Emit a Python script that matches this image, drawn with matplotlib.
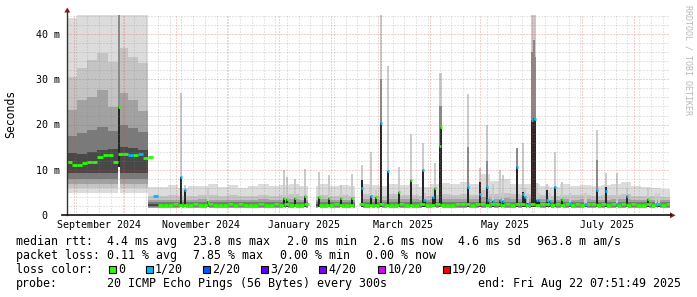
import numpy as np
import pandas as pd
import matplotlib
matplotlib.use("Agg")
import matplotlib.pyplot as plt
import matplotlib.dates as mdates
from matplotlib.patches import Rectangle, Polygon
from matplotlib.lines import Line2D
from matplotlib.transforms import blended_transform_factory

nan = float("nan")

# ---------------- data ----------------
series_start = "2024-08-28"
series_end = "2025-08-22 07:51:49"
median_step_days = 3
smoke_step_days = 6

# median rtt (ms) per 3-day step
median_rtt_ms = [
    11.7, 11.0, 11.2, 11.5, 11.8, 11.8, 12.8, 13.2, 13.4, 11.8,
    13.5, 13.5, 13.4, 13.3, 13.5, 12.7, 12.9, 4.3, 2.3, 2.2,
    2.3, 2.4, 2.2, 2.3, 2.3, 2.5, 2.3, 2.2, 2.4, 2.3,
    2.2, 2.3, 2.5, 2.3, 2.4, 2.2, 2.3, 2.3, 2.6, 2.3,
    2.2, 2.4, 2.3, 2.5, 2.3, 2.2, 2.3, 2.4, nan, nan,
    2.3, 2.2, 2.3, 2.4, 2.3, 2.2, 2.3, nan, 2.4, 2.2,
    2.3, 2.3, 2.5, 2.3, 2.2, 2.3, 2.4, 2.3, 2.2, 2.3,
    2.5, 2.3, 2.3, 2.4, 2.2, 2.3, 2.3, 2.5, 2.6, 2.4,
    2.3, 2.5, 2.4, 2.3, 2.6, 2.4, 2.3, 2.5, 2.3, 2.4,
    2.5, 2.3, 2.4, 2.2, 2.6, 2.4, 2.3, 2.5, 2.3, 2.4,
    2.2, 2.5, 2.3, 2.4, 2.6, 2.3, 2.4, 2.3, 2.5, 2.2,
    2.4, 2.3, 2.5, 2.3, 2.2, 2.4, 2.3, 2.5, 2.3, 2.4,
]
# lost pings (of 20) per 3-day step
median_loss = [
    0, 0, 0, 0, 0, 0, 0, 0, 0, 0, 0, 0, 1, 0, 1, 0, 0, 1, 0, 0,
    0, 0, 0, 0, 0, 0, 0, 0, 0, 0, 0, 0, 0, 0, 0, 0, 0, 0, 0, 0,
    0, 0, 0, 0, 0, 0, 0, 0, 0, 0, 0, 0, 0, 0, 0, 0, 0, 0, 0, 0,
    0, 0, 0, 0, 0, 0, 0, 0, 0, 0, 0, 0, 0, 0, 0, 0, 0, 0, 0, 0,
    0, 0, 0, 0, 0, 0, 0, 0, 0, 0, 0, 0, 0, 0, 0, 0, 0, 0, 0, 0,
    0, 0, 0, 0, 0, 0, 0, 0, 0, 0, 0, 0, 0, 0, 0, 0, 0, 0, 0, 0,
]

# smoke bands (ms) per 6-day step: outer (1) .. inner (5)
smoke1_lo = [5.0] * 8 + [1.5] * 52
smoke1_hi = [43.5, 44.5, 44.5, 44.5, 44.5, 44.5, 44.5, 44.5] + [
    6.2, 6.3, 6.6, 6.0, 6.4, 6.5, 6.8, 6.2, 6.7, 6.0,
    6.5, 7.0, 6.4, 6.6, 6.9, 6.5, 6.5, 6.8, 6.4, 6.7,
    6.5, 7.0, 6.6, 6.5, 7.0, 6.6, 6.9, 6.3, 6.8, 7.2,
    6.9, 7.3, 6.8, 9.0, 7.5, 8.0, 7.0, 6.8, 7.0, 6.5,
    6.3, 6.8, 6.5, 6.7, 6.4, 6.6, 6.9, 7.3, 6.4, 6.2,
    6.0, 5.8]
smoke2_lo = [6.0] * 8 + [1.6] * 52
smoke2_hi = [30.5, 32.4, 34.3, 35.8, 33.8, 37.0, 35.0, 33.5] + [
    4.2, 4.3, 4.4, 4.2, 4.3, 4.5, 4.4, 4.3, 4.4, 4.2,
    4.3, 4.5, 4.3, 4.4, 4.6, 4.3, 4.3, 4.5, 4.3, 4.4,
    4.3, 4.6, 4.4, 4.3, 4.6, 4.4, 4.5, 4.3, 4.5, 4.7,
    4.5, 4.8, 4.5, 5.5, 4.8, 5.0, 4.6, 4.5, 4.6, 4.4,
    4.3, 4.5, 4.4, 4.5, 4.3, 4.4, 4.5, 4.7, 4.3, 4.2,
    4.2, 4.1]
smoke3_lo = [7.0] * 8 + [1.7] * 52
smoke3_hi = [23.2, 25.4, 26.0, 27.6, 23.8, 27.0, 25.4, 23.0] + [
    3.3, 3.4, 3.4, 3.3, 3.4, 3.5, 3.4, 3.3, 3.4, 3.3,
    3.4, 3.5, 3.4, 3.4, 3.5, 3.4, 3.4, 3.5, 3.4, 3.4,
    3.4, 3.6, 3.5, 3.4, 3.6, 3.5, 3.5, 3.4, 3.5, 3.6,
    3.5, 3.7, 3.5, 4.0, 3.7, 3.8, 3.5, 3.5, 3.6, 3.5,
    3.4, 3.5, 3.4, 3.5, 3.4, 3.4, 3.5, 3.6, 3.4, 3.3,
    3.3, 3.3]
smoke4_lo = [8.0] * 8 + [1.8] * 52
smoke4_hi = [17.5, 18.2, 18.8, 19.5, 18.5, 20.0, 19.2, 18.3] + [2.9] * 52
smoke5_lo = [9.4] * 8 + [2.0] * 52
smoke5_hi = [13.8, 13.6, 14.0, 14.5, 14.6, 15.0, 14.8, 14.3] + [2.6] * 52

# short events
spike_dates = [
    "2024-09-28", "2024-11-04", "2024-11-06", "2024-11-20", "2025-01-04",
    "2025-01-06", "2025-01-11", "2025-01-17", "2025-01-25", "2025-01-31",
    "2025-02-07", "2025-02-14", "2025-02-20", "2025-02-25", "2025-02-28",
    "2025-03-03", "2025-03-07", "2025-03-14", "2025-03-21", "2025-03-28",
    "2025-03-29", "2025-04-03", "2025-04-04", "2025-04-07", "2025-04-08",
    "2025-04-24", "2025-05-01", "2025-05-05", "2025-05-06", "2025-05-09",
    "2025-05-13", "2025-05-15", "2025-05-23", "2025-05-27", "2025-05-28",
    "2025-05-30", "2025-06-01", "2025-06-02", "2025-06-03", "2025-06-04",
    "2025-06-05", "2025-06-10", "2025-06-12", "2025-06-15", "2025-06-19",
    "2025-06-24", "2025-07-03", "2025-07-10", "2025-07-15", "2025-07-22",
    "2025-07-28", "2025-08-09", "2025-08-14", "2025-08-16"]
spike_median = [
    23.8, 8.4, 5.6, 3.0, 3.8, 3.6, 3.8, 4.3, 4.1, 3.8,
    3.8, 3.8, 6.1, 4.3, 4.1, 20.3, 9.7, 5.2, 7.8, 10.0,
    3.4, 4.1, 6.1, 15.2, 19.5, 6.3, 4.7, 6.2, 3.4, 3.2,
    3.4, 3.2, 10.7, 4.8, 4.0, 2.5, 21.0, 21.4, 21.2, 3.4,
    3.4, 3.4, 3.2, 6.3, 3.6, 2.8, 2.6, 5.6, 5.4, 2.6,
    4.3, 3.6, 2.6, 2.5]
spike_loss = [
    0, 1, 1, 0, 0, 0, 0, 0, 0, 0,
    0, 0, 1, 1, 0, 1, 1, 0, 0, 1,
    1, 1, 0, 0, 0, 1, 1, 1, 1, 1,
    1, 1, 1, 1, 1, 1, 1, 1, 1, 1,
    1, 1, 1, 1, 0, 1, 1, 1, 1, 1,
    1, 0, 1, 1]
spike_low = [10.6] + [1.8] * 53
spike_dark = [
    24.0, 8.4, 5.6, 3.2, 3.9, 3.6, 3.8, 4.3, 4.1, 3.8,
    3.8, 3.8, 7.8, 4.3, 4.1, 20.3, 9.7, 5.2, 7.8, 10.0,
    3.4, 4.1, 6.1, 15.2, 19.5, 6.3, 7.3, 6.2, 3.4, 3.2,
    3.4, 3.2, 10.7, 5.2, 4.0, 2.8, 21.0, 21.4, 21.2, 3.4,
    3.4, 5.6, 3.2, 6.3, 3.6, 2.8, 2.6, 5.6, 6.3, 2.6,
    4.3, 3.6, 2.6, 2.5]
spike_mid = [
    44.5, 8.4, 5.6, 3.2, 3.9, 3.6, 3.8, 4.3, 4.1, 3.8,
    3.8, 3.8, 7.8, 4.3, 4.1, 30.0, 9.7, 5.2, 7.8, 10.0,
    3.4, 4.1, 6.1, 24.0, 24.0, 15.0, 7.3, 12.0, 3.4, 3.2,
    3.4, 3.2, 14.8, 5.2, 4.0, 2.8, 36.0, 38.7, 35.0, 3.4,
    3.4, 5.6, 3.2, 6.3, 3.6, 2.8, 2.6, 12.2, 6.3, 2.6,
    4.3, 3.6, 2.6, 2.5]
spike_light = [
    44.5, 27.0, 6.6, 6.0, 10.0, 8.5, 8.0, 10.2, 9.5, 8.9,
    6.7, 9.0, 11.1, 14.0, 5.5, 44.5, 33.0, 10.7, 18.0, 16.0,
    5.0, 6.0, 11.5, 31.3, 31.3, 26.7, 10.5, 20.0, 6.0, 7.0,
    10.0, 8.9, 14.8, 15.9, 6.0, 5.0, 44.5, 44.5, 44.5, 7.2,
    5.0, 7.0, 5.0, 14.0, 7.4, 5.0, 5.0, 18.8, 9.3, 9.3,
    6.0, 6.0, 5.0, 5.0]

# periods without data
gap_starts = ["2025-01-18 19:00", "2025-02-15 15:00"]
gap_ends = ["2025-01-23 14:00", "2025-02-19 10:00"]

month_label_dates = ["2024-09-16", "2024-11-16", "2025-01-16",
                     "2025-03-16", "2025-05-16", "2025-07-16"]
month_labels = ["September 2024", "November 2024", "January 2025",
                "March 2025", "May 2025", "July 2025"]
y_tick_values = [0, 10, 20, 30, 40]
y_tick_labels = ["0", "10 m", "20 m", "30 m", "40 m"]

loss_levels = [0, 1, 2, 3, 4, 10, 19]
loss_level_labels = ["0", "1/20", "2/20", "3/20", "4/20", "10/20", "19/20"]
loss_level_colors = ["#26ff00", "#00b8ff", "#0059ff", "#5e00ff",
                     "#7e00ff", "#dd00ff", "#ff0000"]

rtt_stats = ["4.4 ms avg", "23.8 ms max", "2.0 ms min", "2.6 ms now",
             "4.6 ms sd", "963.8 m am/s"]
loss_stats = ["0.11 % avg", "7.85 % max", "0.00 % min", "0.00 % now"]
probe_text = "20 ICMP Echo Pings (56 Bytes) every 300s"
end_text = "end: Fri Aug 22 07:51:49 2025"

# ---------------- layout ----------------
W, H = 697, 297
MONO = "DejaVu Sans Mono"
AX_L, AX_R, AX_T, AX_B = 67.3, 669.9, 14.9, 215.3
Y_TOP = 44.2


def fx(x):
    return x / W


def fy(y):
    return 1 - y / H


def loss_color(n):
    col = loss_level_colors[0]
    for lv, c in zip(loss_levels, loss_level_colors):
        if n >= lv:
            col = c
    return col


fig = plt.figure(figsize=(W / 100, H / 100), dpi=100, facecolor="white")
ax = fig.add_axes([fx(AX_L), fy(AX_B), (AX_R - AX_L) / W, (AX_B - AX_T) / H])
ax.axis("off")

start = mdates.datestr2num(series_start)
end = mdates.datestr2num(series_end)
ax.set_xlim(start, end)
ax.set_ylim(0, Y_TOP)

# smoke
smoke_edges = start + smoke_step_days * np.arange(len(smoke1_hi) + 1)
layers = [(smoke1_lo, smoke1_hi, "#dcdcdc"), (smoke2_lo, smoke2_hi, "#c4c4c4"),
          (smoke3_lo, smoke3_hi, "#a2a2a2"), (smoke4_lo, smoke4_hi, "#7a7a7a"),
          (smoke5_lo, smoke5_hi, "#484848")]
for z, (lo, hi, c) in enumerate(layers):
    ax.stairs(np.array(hi), smoke_edges, baseline=np.array(lo), fill=True,
              color=c, lw=0, zorder=1 + z * 0.1)

# spikes
sx = mdates.datestr2num(spike_dates)
sl = np.array(spike_low)
bw = 1.2
ax.bar(sx, sl, width=bw, bottom=0, color="white", lw=0, zorder=2)
ax.bar(sx, np.array(spike_light) - sl, width=bw, bottom=sl, color="#cbcbcb", lw=0, zorder=2.1)
ax.bar(sx, np.array(spike_mid) - sl, width=bw, bottom=sl, color="#8a8a8a", lw=0, zorder=2.2)
ax.bar(sx, np.array(spike_dark) - sl, width=bw, bottom=sl, color="#262626", lw=0, zorder=2.3)

# gaps
for a, b in zip(gap_starts, gap_ends):
    ax.axvspan(mdates.datestr2num(a), mdates.datestr2num(b), color="white", lw=0, zorder=3)

# grid (dotted, drawn over smoke)
dots = (0, (1, 2))
for v in range(2, 45, 2):
    if v % 10:
        ax.axhline(v, color="#808080", alpha=0.4, lw=0.72, ls=dots, zorder=4)
for v in range(10, 45, 10):
    ax.axhline(v, color="#e04040", alpha=0.5, lw=0.72, ls=dots, zorder=4.1)
for d in pd.date_range("2024-08-28", "2025-08-22", freq="W-MON"):
    ax.axvline(mdates.date2num(d.to_pydatetime()), color="#808080", alpha=0.4,
               lw=0.72, ls=dots, zorder=4)
for d in pd.date_range("2024-09-01", "2025-08-22", freq="MS"):
    ax.axvline(mdates.date2num(d.to_pydatetime()), color="#e04040", alpha=0.5,
               lw=0.72, ls=dots, zorder=4.1)

# median line
med = np.array(median_rtt_ms, float)
med_edges = start + median_step_days * np.arange(len(med) + 1)
for i, (v, l) in enumerate(zip(med, median_loss)):
    if not np.isnan(v):
        ax.hlines(v, med_edges[i], med_edges[i + 1], color=loss_color(l),
                  lw=2.0, zorder=5)
for x, v, l in zip(sx, spike_median, spike_loss):
    ax.hlines(v, x - bw / 2, x + bw / 2, color=loss_color(l), lw=2.0, zorder=5.5)

# axes lines and arrows
fig.add_artist(Line2D([fx(AX_L), fx(AX_L)], [fy(AX_B), fy(11)], color="#333333", lw=1.0))
fig.add_artist(Line2D([fx(62), fx(671)], [fy(AX_B), fy(AX_B)], color="#111111", lw=1.2))
fig.add_artist(Polygon([[fx(AX_L), fy(7.5)], [fx(AX_L - 3), fy(12.5)], [fx(AX_L + 3), fy(12.5)]],
                       closed=True, color="#8b1a1a", lw=0))
fig.add_artist(Polygon([[fx(675.5), fy(AX_B)], [fx(670), fy(AX_B - 3)], [fx(670), fy(AX_B + 3)]],
                       closed=True, color="#8b1a1a", lw=0))

# y tick labels
ppm = (AX_B - AX_T) / Y_TOP
for v, t in zip(y_tick_values, y_tick_labels):
    xr = 59.8 if "m" in t else 47.7
    fig.text(fx(xr), fy(AX_B - v * ppm + 3.6), t, ha="right", va="baseline",
             fontsize=7.2, family=MONO, color="#000000")

# x labels
tr = blended_transform_factory(ax.transData, fig.transFigure)
for d, t in zip(month_label_dates, month_labels):
    ax.text(mdates.datestr2num(d), fy(227.7), t, transform=tr, ha="center",
            va="baseline", fontsize=7.2, family=MONO, color="#000000", clip_on=False)

fig.text(fx(10.5), fy(114), "Seconds", rotation=90, ha="center", va="center",
         fontsize=8.3, family=MONO)
fig.text(fx(688), fy(60), "RRDTOOL / TOBI OETIKER", rotation=270, ha="center",
         va="center", fontsize=6.0, family=MONO, color="#b8b8b8")

# legend
LF = 8.35
rows_y = [245, 259, 273, 287]
fig.text(fx(16), fy(rows_y[0]), "median rtt:", fontsize=LF, family=MONO, va="baseline")
for x, t in zip([107, 193, 287, 373, 458, 537], rtt_stats):
    fig.text(fx(x), fy(rows_y[0]), t, fontsize=LF, family=MONO, va="baseline")
fig.text(fx(16), fy(rows_y[1]), "packet loss:", fontsize=LF, family=MONO, va="baseline")
for x, t in zip([107, 193, 280, 366], loss_stats):
    fig.text(fx(x), fy(rows_y[1]), t, fontsize=LF, family=MONO, va="baseline")
fig.text(fx(16), fy(rows_y[2]), "loss color:", fontsize=LF, family=MONO, va="baseline")
for bx, tx, t, c in zip([109.3, 145.8, 203.3, 261.2, 319.3, 377.8, 442.7],
                        [118.3, 155.0, 212.3, 270.7, 328.3, 387.3, 451.7],
                        loss_level_labels, loss_level_colors):
    fig.add_artist(Rectangle((fx(bx), fy(272.5)), 6.8 / W, 6.8 / H,
                             facecolor=c, edgecolor="black", lw=0.8))
    fig.text(fx(tx), fy(rows_y[2]), t, fontsize=LF, family=MONO, va="baseline")
fig.text(fx(16), fy(rows_y[3]), "probe:", fontsize=LF, family=MONO, va="baseline")
fig.text(fx(107), fy(rows_y[3]), probe_text, fontsize=LF, family=MONO, va="baseline")
fig.text(fx(478), fy(rows_y[3]), end_text, fontsize=LF, family=MONO, va="baseline")

fig.savefig("out.png", dpi=100, facecolor="white")
